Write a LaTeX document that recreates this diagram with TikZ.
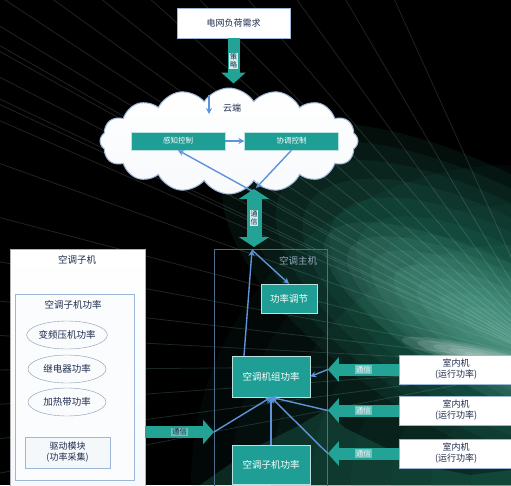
\documentclass[tikz,border=0pt]{standalone}
\usepackage{fontspec}
\setmainfont{Noto Sans CJK SC}
\usetikzlibrary{shapes.symbols,shapes.geometric,arrows.meta,calc}
\definecolor{tealbox}{HTML}{1E9E94}
\definecolor{fatteal}{HTML}{22A396}
\definecolor{linkblue}{HTML}{5F93DA}
\definecolor{frameblue}{HTML}{4F6E8C}
\definecolor{navy}{HTML}{1E2B4C}
\definecolor{paleblue}{HTML}{9DB6D8}
\definecolor{glow}{HTML}{2E9C80}
\tikzset{
  lbl/.style={font=\fontsize{#1}{#1}\selectfont, inner sep=0pt},
  lbl/.default=9,
  whitebox/.style={draw=paleblue, fill=white, text=navy, font=\fontsize{9}{11}\selectfont, align=center, inner sep=1pt},
  tealnode/.style={draw=white!70!tealbox, fill=tealbox, text=white, font=\fontsize{9.5}{11}\selectfont, inner sep=1pt},
  link/.style={draw=linkblue, line width=1.4pt, -{Stealth[length=6pt,width=6pt]}},
  fatarrow/.style={draw=fatteal, line width=12pt, -{Triangle[width=24pt,length=11pt]}},
  fatboth/.style={draw=fatteal, line width=15pt, {Triangle[width=30pt,length=10pt]}-{Triangle[width=30pt,length=10pt]}},
  taglabel/.style={fill=white!80!fatteal, text=navy, font=\fontsize{7}{8}\selectfont, inner sep=0.8pt, align=center},
  commlabel/.style={fill=white!35!fatteal, text=white!85!linkblue, font=\fontsize{7.5}{8}\selectfont, inner sep=0.8pt},
  powerellipse/.style={ellipse, draw=frameblue!70, fill=white!94!paleblue, text=navy, font=\fontsize{9.5}{11}\selectfont, minimum width=78pt, minimum height=28pt, inner sep=0pt}
}
\begin{document}
\begin{tikzpicture}[x=1pt,y=-1pt]
\useasboundingbox (0,0) rectangle (511,485);
\clip (0,0) rectangle (511,485);
% dark backdrop: soft glowing beam built from stacked translucent layers, and a fan of light lines
\fill[black] (0,0) rectangle (511,485);
\foreach \k in {1,...,8}
  \fill[glow!55!black, opacity=0.1] (511,485) circle ({40*\k});
\foreach \k in {1,...,10}
  \fill[glow, opacity=0.09, rotate around={-30:(490,310)}] (490,310) ellipse ({30*\k} and {13*\k});
\foreach \k in {1,...,8}
  \fill[glow!60!white, opacity=0.09, rotate around={-28:(510,335)}] (510,335) ellipse ({26*\k} and {8*\k});
\foreach \x in {-300,-230,-170,-110,-60,-10,40,90,140,190,240,290,340,390}
  \draw[white, opacity=0.13, line width=0.8pt] (560,365) -- (\x,-10);
\foreach \y in {40,100,160,215,260,300,335,370,405,440,475}
  \draw[glow!60!white, opacity=0.2, line width=0.8pt] (560,365) -- (-10,\y);
\fill[glow, opacity=0.22] (200,485) -- (250,450) -- (300,425) -- (325,410) -- (345,428) -- (380,445) -- (420,465) -- (470,475) -- (511,470) -- (511,485) -- cycle;
\foreach \k in {1,...,5}
  \fill[white, opacity=0.12, rotate around={-12:(480,356)}] (480,356) ellipse ({16*\k} and {2*\k});

% grid demand at the top
\node[whitebox, minimum width=113pt, minimum height=30pt] (grid) at (233.5,23) {电网负荷需求};

% cloud platform
\node[cloud, cloud puffs=16, cloud puff arc=115, aspect=2.6, draw=paleblue, line width=1pt, top color=white, bottom color=white!92!paleblue, minimum width=258pt, minimum height=106pt] (cloud) at (229,141) {};
\draw[fatarrow] (grid.south) -- ([yshift=4pt]cloud.north -| grid.south)
  node[midway, taglabel] {策\\略};
\coordinate (edgein) at (209,95);
\coordinate (edgeout) at (209,114);
\draw[link, line width=1.2pt] (edgein) -- (edgeout);
\node[lbl=9, text=navy] (edge) at (232,108) {云端};
\node[tealnode, font=\fontsize{7.5}{9}\selectfont, minimum width=94pt, minimum height=18pt] (sense) at (178,141) {感知控制};
\node[tealnode, font=\fontsize{7.5}{9}\selectfont, minimum width=94pt, minimum height=18pt] (coord) at (291.5,141) {协调控制};
\draw[link] (sense.east) -- (coord.west);

% outdoor host frame
\node[draw=frameblue, line width=0.8pt, minimum width=113pt, minimum height=250pt, anchor=north west, inner sep=0pt] (host) at (214,249) {};
\node[lbl=9.5, text=frameblue!60!white] (hostname) at (298,261) {空调主机};
\coordinate (cloudport) at (252,191);
\coordinate (hostport) at (252,250);
\draw[fatboth] (254,189) -- (254,247) node[midway, taglabel] {通\\信};
\draw[link] (cloudport) -- (sense.south);
\draw[link] (coord.south) -- (256,188);

\node[tealnode, minimum width=56pt, minimum height=29pt] (adjust) at (289,298.5) {功率调节};
\node[tealnode, minimum width=78pt, minimum height=41pt] (unit) at (271,376.5) {空调机组功率};
\node[tealnode, minimum width=78pt, minimum height=39pt] (subpow) at (271,464.5) {空调子机功率};
\draw[link] ([xshift=-27pt]unit.north) -- (hostport);
\draw[link] (hostport) -- (adjust.north);
\draw[link] (subpow.north) -- (unit.south);

% indoor units
\node[whitebox, minimum width=114pt, minimum height=29pt, anchor=west] (in1) at (399,369.5) {室内机\\(运行功率)};
\node[whitebox, minimum width=114pt, minimum height=29pt, anchor=west] (in2) at (399,410.5) {室内机\\(运行功率)};
\node[whitebox, minimum width=114pt, minimum height=29pt, anchor=west] (in3) at (399,453.5) {室内机\\(运行功率)};
\foreach \n in {in1,in2,in3}
  \draw[fatarrow] (\n.west) -- (\n.west -| host.east) node[midway, commlabel] {通信};
\draw[link] (in1.west -| host.east) -- (unit.east);
\draw[link] (in2.west -| host.east) -- (unit.south);
\draw[link] (in3.west -| host.east) -- (unit.south);

% sub-unit panel on the left
\node[draw=gray!60, top color=white, bottom color=white!90!paleblue, minimum width=135pt, minimum height=250pt, anchor=north west, inner sep=0pt] (sub) at (10,249) {};
\node[lbl=9.5, text=navy] (subname) at (77,260) {空调子机};
\node[draw=paleblue, line width=0.9pt, fill=white!96!paleblue, minimum width=119pt, minimum height=186pt, anchor=north west, inner sep=0pt] (powbox) at (15,294) {};
\node[lbl=9.5, text=navy] (powname) at (73,305) {空调子机功率};
\node[powerellipse] (e1) at (67,335) {变频压机功率};
\node[powerellipse] (e2) at (67,369) {继电器功率};
\node[powerellipse] (e3) at (67,402) {加热带功率};
\node[whitebox, fill=white!90!paleblue, font=\fontsize{9}{11}\selectfont, minimum width=85pt, minimum height=31pt] (drive) at (67.5,452.5) {驱动模块\\(功率采集)};
\coordinate (subrow) at (0,432);
\draw[fatarrow] (sub.east |- subrow) -- (host.west |- subrow) node[midway, commlabel, text=navy] {通信};
\draw[link] (host.west |- subrow) -- (unit.south);
\end{tikzpicture}
\end{document}
